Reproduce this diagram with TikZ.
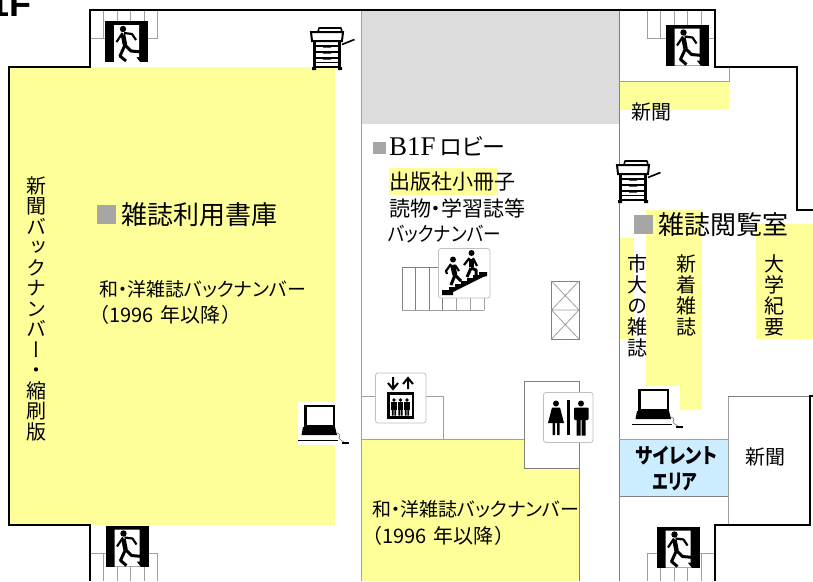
\documentclass[tikz,border=0pt]{standalone}
\usepackage{fontspec}
\setmainfont{Noto Sans CJK JP}[RawFeature=+palt]
\newfontfamily\vfont{Noto Sans CJK JP}[RawFeature=+vert]
\newfontfamily\latinserif{Liberation Serif}
\newfontfamily\floorfont{Liberation Sans}
\definecolor{shelf}{HTML}{FFFF99}
\definecolor{quiet}{HTML}{CCECFF}
\definecolor{shaftg}{HTML}{DCDCDC}
\definecolor{markg}{HTML}{A6A6A6}
\definecolor{lineg}{HTML}{A0A0A0}
\definecolor{lined}{HTML}{808080}
\newcommand{\fz}[1]{\fontsize{#1}{#1}\selectfont}
\tikzset{
  wall/.style={line width=1.4pt,black},
  thinwall/.style={line width=0.8pt,lineg},
  darkwall/.style={line width=1pt,lined},
  iconbox/.style={draw=black!25,fill=white,rounded corners=2.5pt,line width=0.8pt},
  txt/.style={inner sep=0,outer sep=0,anchor=west},
  vtxt/.style={inner sep=0,outer sep=0,anchor=north,align=center},
  exiticon/.pic={
    \fill[black] (0,0) rectangle (43,41);
    \fill[white] (9,4) -- (34,4) -- (34,36) -- (31,36) -- (35,41) -- (9,41) -- cycle;
    \fill[black] (18,8) circle (3.2);
    \draw[black,line width=4.5pt,line join=round] (18,13.5) -- (20,24);
    \draw[black,line width=2.2pt,line join=round] (17.5,12) -- (11.5,21);
    \draw[black,line width=2.2pt,line join=round] (19,12) -- (27,13) -- (31,19);
    \draw[black,line width=3pt,line join=round] (20,24) -- (26,30) -- (37,31);
    \draw[black,line width=3pt,line join=round] (20,24) -- (15,35) -- (21,40);
  },
  copier/.pic={
    \fill[white] (1,5) rectangle (31,40);
    \draw[black,line width=1.6pt,line join=round] (7,5) -- (8,1) -- (30,1) -- (31,5);
    \draw[black,line width=2pt] (0,5) -- (32,5) -- (31,14) -- (1,14) -- cycle;
    \draw[black,line width=2.2pt] (3.5,14) -- (3.5,40) (28.5,14) -- (28.5,40);
    \draw[black,line width=2pt] (2,39.5) -- (30,39.5);
    \draw[black,line width=1.1pt] (3,19) -- (29,19) (3,25) -- (29,25) (3,31) -- (29,31) (3,35.5) -- (29,35.5);
    \fill[black] (12,18) rectangle (20,20.5) (12,24) rectangle (20,26.5) (12,30) rectangle (20,32.5);
    \fill[black] (1,40) rectangle (5,43) (27,40) rectangle (31,43);
    \draw[black,line width=1.6pt] (31,17.5) -- (43.5,12.5);
  },
  computer/.pic={
    \draw[black,line width=2.2pt] (7.5,4) rectangle (36,24);
    \fill[black] (5,25) -- (37,25) -- (39,33) -- (3.5,33) -- cycle;
    \draw[black,line width=1.5pt] (0,38.5) -- (40,38.5);
    \draw[black!55,line width=0.6pt] (39,31) .. controls (43,32) and (42,35) .. (41,36) .. controls (41,38) and (44,38) .. (46,40);
    \fill[black] (44,39.5) rectangle (51,41.5);
  },
}
\begin{document}
\begin{tikzpicture}[x=1pt,y=-1pt]
\useasboundingbox (0,0) rectangle (813,581);
\fill[white] (0,0) rectangle (813,581);
% coloured areas
\fill[shelf] (9,67) rectangle (335,525);
\fill[shaftg] (361,10) rectangle (619,124);
\fill[shelf] (361,439) rectangle (579,581);
\fill[white] (524,381.5) rectangle (579,468);
\fill[shelf] (620,81) rectangle (729,110);
\fill[shelf] (646,210) rectangle (702,410);
\fill[shelf] (620,238) rectangle (634,339);
\fill[shelf] (756,224) rectangle (813,339);
\fill[shelf] (389,168) rectangle (498,195);
\fill[white] (298,402) rectangle (335,445);
\fill[white] (632,386) rectangle (680,426);
\fill[quiet] (620,439) rectangle (728,496);
% stairs behind the exits
\foreach \ox/\oy/\ey in {90/10/38,647/10/38,90/553/553,647/553/553}{
  \draw[thinwall] (\ox,\ey) -- +(68,0);
  \foreach \k in {0,...,5}{\draw[thinwall] (\ox+13.5*\k,\oy) -- (\ox+13.5*\k,\oy+28);}
}
% inner walls
\draw[thinwall] (361,10) -- (361,581);
\draw[darkwall] (619,10) -- (619,581);
\draw[thinwall] (619,81) -- (729,81) -- (729,67);
\draw[thinwall] (361,396) -- (443,396) -- (443,439);
\draw[thinwall] (361,439) -- (524,439);
\draw[darkwall] (524,468) -- (579,468);
\draw[darkwall] (524,468) -- (524,381.5) -- (579,381.5) -- (579,581);
\draw[thinwall] (619,439) -- (728,439);
\draw[darkwall] (619,496) -- (728,496);
\draw[thinwall] (728,396) -- (728,525);
\draw[darkwall] (728,396) -- (810,396);
% stairs and void
\draw[darkwall] (402,310) -- (402,267) -- (442,267);
\foreach \x in {415.5,429,442}{\draw[darkwall] (\x,267) -- (\x,310);}
\draw[thinwall] (402,310) -- (484,310);
\foreach \x in {456,470,484}{\draw[thinwall] (\x,295) -- (\x,310);}
\draw[darkwall] (551.5,281) rectangle (579,339);
\draw[thinwall] (551.5,310) -- (579,310)
  (551.5,281) -- (579,310) (579,281) -- (551.5,310)
  (551.5,310) -- (579,339) (579,310) -- (551.5,339);
% outer wall
\draw[wall,line join=miter] (90,581) -- (90,525) -- (9,525) -- (9,67) -- (90,67) -- (90,10) -- (715,10) -- (715,67) -- (797,67) -- (797,210) -- (813,210);
\draw[wall,line join=miter] (715,581) -- (715,525) -- (810,525) -- (810,396) -- (813,396);
% exit signs
\pic at (105,21) {exiticon};
\pic at (665.5,24.5) {exiticon};
\pic at (105.5,525.5) {exiticon};
\pic at (656.5,526.5) {exiticon};
% copiers
\pic at (311,27) {copier};
\pic at (617,160) {copier};
% computers
\pic at (298,402) {computer};
\pic at (632,386) {computer};
% stair sign
\draw[iconbox] (438.5,248.5) rectangle (490,298);
\fill[black] (442,295) -- (442,290) -- (449,290) -- (449,287) -- (455,287) -- (455,284) -- (461,284) -- (461,281) -- (467,281) -- (467,278) -- (473,278) -- (473,275) -- (479,275) -- (479,272) -- (487,272) -- (487,276) -- (483,277) -- (477,280) -- (471,283) -- (465,286) -- (459,289) -- (453,292) -- (453,295) -- cycle;
\fill[black] (453,259.5) circle (3) (471.5,253) circle (3);
\draw[black,line width=5pt] (452.5,265) -- (455,275);
\draw[black,line width=2.2pt,line join=round] (451,264) -- (446,271) -- (447,274) (455,265) -- (459,271);
\draw[black,line width=3pt,line join=round] (455,275) -- (451,285) (455,275) -- (461,281);
\draw[black,line width=5pt] (471,258.5) -- (471,267);
\draw[black,line width=2.2pt,line join=round] (469.5,258) -- (464,265) (473,258) -- (477,266);
\draw[black,line width=3pt,line join=round] (471,268) -- (467,277) (471,268) -- (476,270) -- (476,276);
% lift sign
\draw[iconbox] (375.5,373) rectangle (426,423);
\draw[black,line width=2pt,line join=miter] (393,377) -- (393,388) (388,383) -- (393,389) -- (398,383);
\draw[black,line width=2pt,line join=miter] (408,389) -- (408,378) (403,384) -- (408,378) -- (413,384);
\fill[black] (387,392) rectangle (414,418.5);
\fill[white] (389.5,394.5) rectangle (411.5,415.5);
\foreach \x in {394,400.5,407}{
  \fill[black] (\x,400) circle (1.9);
  \fill[black] (\x-2.9,402) rectangle (\x+2.9,410);
  \fill[black] (\x-2.1,410) rectangle (\x-0.3,415.5) (\x+0.3,410) rectangle (\x+2.1,415.5);
}
% toilet sign
\draw[iconbox] (543.5,392.5) rectangle (593,442.5);
\fill[black] (556,403.5) circle (3) (581,403.5) circle (3);
\fill[black] (552,407.5) -- (560,407.5) -- (564,423) -- (548,423) -- cycle;
\fill[black] (552.5,423) rectangle (555,435) (557,423) rectangle (559.5,435);
\fill[black] (567,400) rectangle (570,435);
\fill[black,rounded corners=1pt] (574,407.5) rectangle (588.5,420);
\fill[black] (576.5,418) rectangle (580.5,435.5) (581.5,418) rectangle (585.5,435.5);
% texts
\node[txt,anchor=base west] (floor) at (-10.6,16) {\floorfont\fz{36}\bfseries 1F};
\fill[markg] (97,205) rectangle (116,224);
\node[txt] (store) at (121,215) {\fz{26}雑誌利用書庫};
\node[txt] (back1) at (99,289) {\fz{19}和・洋雑誌バックナンバー};
\node[txt] (year1) at (99,315) {\fz{20}（1996\hspace{7pt}年以降\hspace{2pt}）};
\node[txt] (back2) at (372,509) {\fz{19}和・洋雑誌バックナンバー};
\node[txt] (year2) at (372,536) {\fz{20}（1996\hspace{7pt}年以降\hspace{2pt}）};
\fill[markg] (373,142) rectangle (386,154);
\node[txt] (lobby) at (389,146) {{\latinserif\fz{27}B1F}\hspace{4pt}\fz{23}ロビー};
\node[txt] (book) at (389,182) {\fz{21}出版社小冊子};
\node[txt] (read) at (389,208) {\fz{21}読物・学習誌等};
\node[txt] (backn) at (388,234) {\fz{20}\scalebox{.88}[1]{バックナンバー}};
\node[vtxt,font={\vfont\fontsize{20}{20.5}\selectfont}] (vback) at (37,176.5) {新\\聞\\バ\\ッ\\ク\\ナ\\ン\\バ\\ー\\・\\縮\\刷\\版};
\node[vtxt,font={\vfont\fontsize{20}{21}\selectfont}] (vuni) at (637,255) {市\\大\\の\\雑\\誌};
\node[vtxt,font={\vfont\fontsize{20}{20.8}\selectfont}] (vnew) at (686,255) {新\\着\\雑\\誌};
\node[vtxt,font={\vfont\fontsize{20}{20.8}\selectfont}] (vbull) at (774,255) {大\\学\\紀\\要};
\node[txt] (paper1) at (631,112) {\fz{20}新聞};
\node[txt] (paper2) at (745,457) {\fz{20}新聞};
\fill[markg] (634,215) rectangle (653,234);
\node[txt] (reading) at (658,225) {\fz{26}雑誌閲覧室};
\node[txt,anchor=center,font=\bfseries] (quiet1) at (676.5,456) {\fz{21}\scalebox{.85}[1]{サイレント}};
\node[txt,anchor=center,font=\bfseries] (quiet2) at (675,482) {\fz{21}\scalebox{.76}[1]{エリア}};
\end{tikzpicture}
\end{document}
